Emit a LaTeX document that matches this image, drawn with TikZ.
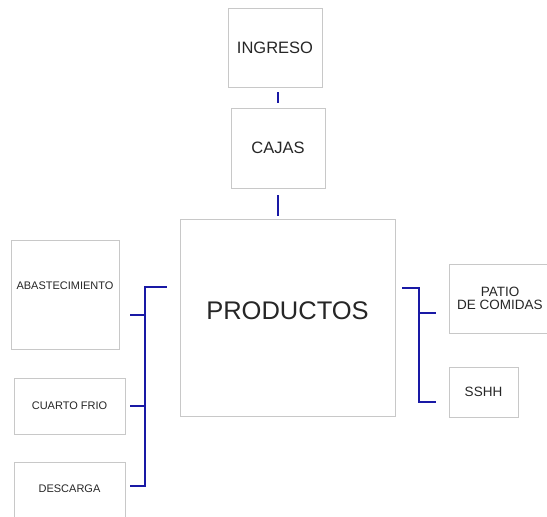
\documentclass[tikz,border=0pt]{standalone}
\usepackage{fontspec}
\setmainfont{Liberation Sans}
\usetikzlibrary{positioning}
\definecolor{boxgray}{RGB}{200,200,200}
\definecolor{linkblue}{RGB}{25,25,165}

\begin{document}
\begin{tikzpicture}[
    x=1pt, y=-1pt,
    box/.style={rectangle, draw=boxgray, line width=0.8pt, inner sep=0pt,
                align=center, text=black!85},
    big/.style={font=\fontsize{16.5}{19}\selectfont},
    small/.style={font=\fontsize{11}{13}\selectfont},
    mid/.style={font=\fontsize{13.5}{13}\selectfont},
    link/.style={draw=linkblue, line width=2.2pt}
]
  \useasboundingbox (0,0) rectangle (547,517);
  \clip (0,0) rectangle (547,517);

  % top column
  \node[box, big, minimum width=94pt, minimum height=79pt] (ingreso) at (275,47.5) {INGRESO};
  \node[box, big, minimum width=94pt, minimum height=80pt] (cajas) at (278,148) {CAJAS};
  \node[box, font=\fontsize{25.5}{30}\selectfont, text height=18.3pt, text depth=15pt,
        minimum width=215pt, minimum height=197pt] (prod) at (287.5,317.5) {PRODUCTOS};

  % left side
  \node[box, small, text height=8pt, text depth=19pt,
        minimum width=108pt, minimum height=109pt] (abas) at (65,294.5) {ABASTECIMIENTO};
  \node[box, small, minimum width=111pt, minimum height=56pt] (cuarto) at (69.5,406) {CUARTO FRIO};
  \node[box, small, text height=8pt, text depth=16pt,
        minimum width=111pt, minimum height=68pt] (desc) at (69.5,496) {DESCARGA};

  % right side
  \node[box, mid, minimum width=102pt, minimum height=69pt] (patio) at (500,298.5) {PATIO\\DE COMIDAS};
  \node[box, mid, minimum width=69pt, minimum height=50pt] (sshh) at (483.5,392) {SSHH};

  % connectors
  \draw[link] ([yshift=-5pt]cajas.north |- ingreso.south) -- ([yshift=5pt]cajas.north);
  \draw[link] ([yshift=-7pt]cajas.south) -- ([yshift=3pt]cajas.south |- prod.north);

  \coordinate (lbus) at (145,287);
  \draw[link] ([xshift=-13pt]prod.west |- lbus) -- (lbus) |- ([xshift=5pt]desc.east |- 0,486);
  \draw[link] (lbus |- 0,315) -- ([xshift=11pt]abas.east |- 0,315);
  \draw[link] (lbus |- cuarto.east) -- ([xshift=5pt]cuarto.east);

  \coordinate (rbus) at (419,288);
  \draw[link] ([xshift=7pt]prod.east |- rbus) -- (rbus) |- ([xshift=-13pt]sshh.west |- 0,402);
  \draw[link] (rbus |- 0,313) -- ([xshift=-13pt]patio.west |- 0,313);
\end{tikzpicture}
\end{document}
